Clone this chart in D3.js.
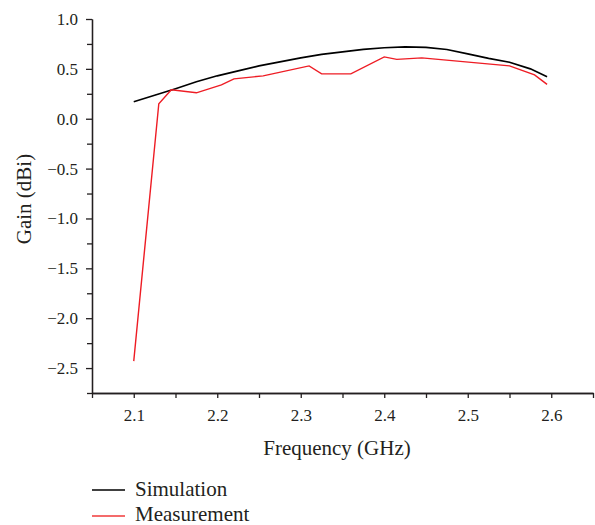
<!DOCTYPE html>
<html lang="en">
<head>
    <meta charset="UTF-8">
    <title>Gain vs Frequency</title>
    <script src="https://d3js.org/d3.v7.min.js"></script>
    <style>
        body { margin: 0; background: #fff; }
        text { font-family: "Liberation Serif", "DejaVu Serif", serif; fill: #231f20; }
        .axis path, .axis line { stroke: #231f20; stroke-width: 1.3; }
        .line { fill: none; }
        .line.sim { stroke: #000; stroke-width: 1.6; }
        .line.meas { stroke: #ee1c24; stroke-width: 1.4; }
    </style>
</head>
<body>
    <svg width="595" height="525"></svg>
    <script>
        // Simulation (black)
        const simFreq = [2.1, 2.125, 2.15, 2.175, 2.2, 2.225, 2.25, 2.275, 2.3, 2.325, 2.35, 2.375,
                         2.4, 2.425, 2.45, 2.475, 2.5, 2.525, 2.55, 2.575, 2.595];
        const simGain = [0.17, 0.235, 0.30, 0.37, 0.43, 0.48, 0.53, 0.57, 0.61, 0.645, 0.67, 0.695,
                         0.712, 0.72, 0.715, 0.695, 0.65, 0.605, 0.567, 0.50, 0.42];

        // Measurement (red)
        const measFreq = [2.1, 2.13, 2.145, 2.175, 2.205, 2.22, 2.255, 2.31, 2.325, 2.36,
                          2.40, 2.415, 2.445, 2.55, 2.58, 2.595];
        const measGain = [-2.43, 0.15, 0.29, 0.26, 0.34, 0.40, 0.43, 0.53, 0.45, 0.45,
                          0.62, 0.595, 0.61, 0.53, 0.44, 0.345];

        const xTicks = [2.1, 2.2, 2.3, 2.4, 2.5, 2.6];
        const xMinor = [2.05, 2.15, 2.25, 2.35, 2.45, 2.55, 2.65];
        const yTicks = [1.0, 0.5, 0.0, -0.5, -1.0, -1.5, -2.0, -2.5];
        const yMinor = [0.75, 0.25, -0.25, -0.75, -1.25, -1.75, -2.25, -2.75];

        const svg = d3.select("svg");
        const plotLeft = 92, plotRight = 593, plotTop = 19, plotBottom = 393;
        const serif = "'Liberation Serif', 'DejaVu Serif', serif";

        const x = d3.scaleLinear().domain([2.05, 2.65]).range([plotLeft, plotRight]);
        const y = d3.scaleLinear().domain([-2.75, 1.0]).range([plotBottom, plotTop]);

        // minor ticks
        svg.append("g")
            .attr("class", "axis")
            .attr("transform", `translate(0,${plotBottom})`)
            .call(d3.axisBottom(x).tickValues(xMinor).tickSize(5).tickSizeOuter(0).tickFormat(""));
        svg.append("g")
            .attr("class", "axis")
            .attr("transform", `translate(${plotLeft},0)`)
            .call(d3.axisLeft(y).tickValues(yMinor).tickSize(5).tickSizeOuter(0).tickFormat(""));

        // X axis
        const xAxis = svg.append("g")
            .attr("class", "axis")
            .attr("transform", `translate(0,${plotBottom})`)
            .call(d3.axisBottom(x).tickValues(xTicks).tickSize(5).tickSizeOuter(0)
                .tickPadding(11).tickFormat(d3.format(".1f")));
        xAxis.attr("font-family", serif);
        xAxis.selectAll("text").attr("font-size", "17px");

        // Y axis
        const yAxis = svg.append("g")
            .attr("class", "axis")
            .attr("transform", `translate(${plotLeft},0)`)
            .call(d3.axisLeft(y).tickValues(yTicks).tickSize(6).tickSizeOuter(0)
                .tickPadding(8).tickFormat(d3.format(".1f")));
        yAxis.attr("font-family", serif);
        yAxis.selectAll("text").attr("font-size", "17px");

        // axis titles
        svg.append("text")
            .attr("x", 337)
            .attr("y", 455)
            .attr("font-size", "21px")
            .attr("text-anchor", "middle")
            .text("Frequency (GHz)");

        svg.append("text")
            .attr("transform", "translate(31,199) rotate(-90)")
            .attr("font-size", "21px")
            .attr("text-anchor", "middle")
            .text("Gain (dBi)");

        // lines
        const simData = simFreq.map((f, i) => ({ f, g: simGain[i] }));
        const measData = measFreq.map((f, i) => ({ f, g: measGain[i] }));

        const line = d3.line()
            .x(d => x(d.f))
            .y(d => y(d.g));

        svg.append("path")
            .datum(simData)
            .attr("class", "line sim")
            .attr("d", line);

        svg.append("path")
            .datum(measData)
            .attr("class", "line meas")
            .attr("d", line);

        // legend
        const legend = svg.append("g").attr("transform", "translate(92,490)");

        legend.append("line")
            .attr("x1", 0).attr("x2", 33).attr("y1", 0).attr("y2", 0)
            .attr("stroke", "#000").attr("stroke-width", 1.4);
        legend.append("text")
            .attr("x", 43).attr("y", 6)
            .attr("font-size", "21px")
            .text("Simulation");

        legend.append("line")
            .attr("x1", 0).attr("x2", 33).attr("y1", 26).attr("y2", 26)
            .attr("stroke", "#f03a3a").attr("stroke-width", 1.4);
        legend.append("text")
            .attr("x", 43).attr("y", 31)
            .attr("font-size", "21px")
            .text("Measurement");
    </script>
</body>
</html>
